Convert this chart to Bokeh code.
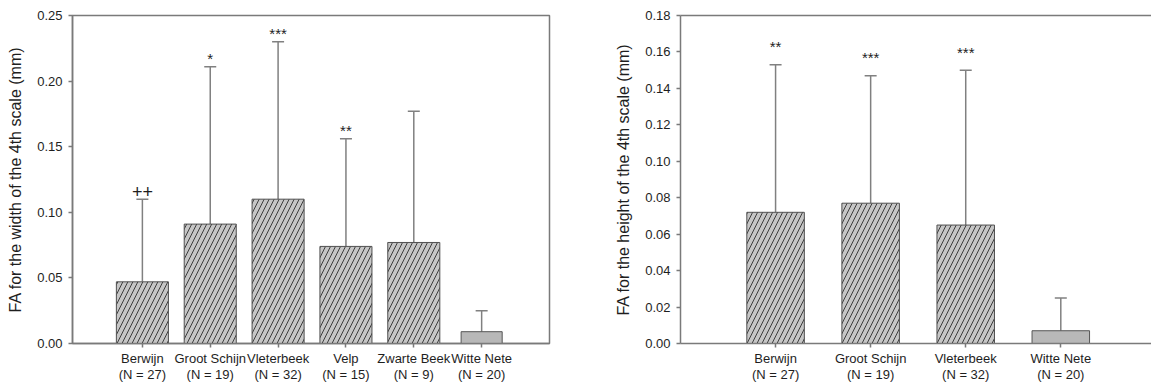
from bokeh.plotting import figure
from bokeh.models import Range1d, FixedTicker, NumeralTickFormatter, LinearAxis, Whisker, TeeHead, ColumnDataSource
from bokeh.layouts import row
from bokeh.embed import file_html
from bokeh.resources import INLINE
from bokeh.core.properties import value

# ---------------- data ----------------
width_sites = ["Berwijn", "Groot Schijn", "Vleterbeek", "Velp", "Zwarte Beek", "Witte Nete"]
width_n = [27, 19, 32, 15, 9, 20]
width_mean = [0.047, 0.091, 0.110, 0.074, 0.077, 0.009]
width_upper = [0.110, 0.211, 0.230, 0.156, 0.177, 0.025]
width_sig = ["++", "*", "***", "**", "", ""]
width_ticks = [0.00, 0.05, 0.10, 0.15, 0.20, 0.25]

height_sites = ["Berwijn", "Groot Schijn", "Vleterbeek", "Witte Nete"]
height_n = [27, 19, 32, 20]
height_mean = [0.072, 0.077, 0.065, 0.007]
height_upper = [0.153, 0.147, 0.150, 0.025]
height_sig = ["**", "***", "***", ""]
height_ticks = [0.00, 0.02, 0.04, 0.06, 0.08, 0.10, 0.12, 0.14, 0.16, 0.18]

control_site = "Witte Nete"

FONT = "Liberation Sans"
AXIS_COLOR = "#7a7a7a"
TEXT_COLOR = "#1e1e1e"


def make_panel(sites, n, mean, upper, sig, yticks, ylabel, fig_w, border_left,
               xr, hatched_w, control_w, sig_offset, boxed, label_standoff):
    p = figure(width=fig_w, height=385, output_backend="svg", toolbar_location=None,
               x_range=Range1d(*xr), y_range=Range1d(yticks[0], yticks[-1]),
               min_border_left=border_left, min_border_right=(31 if boxed else 0),
               min_border_top=15, min_border_bottom=35)
    p.xgrid.visible = False
    p.ygrid.visible = False
    p.background_fill_color = "white"
    p.border_fill_color = "white"

    idx = list(range(len(sites)))
    hatched = [i for i in idx if sites[i] != control_site]
    ctrl = [i for i in idx if sites[i] == control_site]

    src_h = ColumnDataSource(dict(x=[idx[i] for i in hatched], top=[mean[i] for i in hatched]))
    src_c = ColumnDataSource(dict(x=[idx[i] for i in ctrl], top=[mean[i] for i in ctrl]))
    p.vbar(x="x", top="top", bottom=0, width=hatched_w, source=src_h,
           fill_color="#c6c6c6", line_color="#505050", line_width=1,
           hatch_pattern="/", hatch_scale=10, hatch_color="#3c3c3c", hatch_weight=1)
    p.vbar(x="x", top="top", bottom=0, width=control_w, source=src_c,
           fill_color="#b8b8b8", line_color="#555555", line_width=1)

    src_e = ColumnDataSource(dict(x=idx, lower=mean, upper=upper, sig=sig,
                                  fs=["18px" if "+" in s else "15px" for s in sig]))
    w = Whisker(source=src_e, base="x", lower="lower", upper="upper",
                line_color="#808080", line_width=1.5,
                upper_head=TeeHead(size=12, line_color="#808080", line_width=1.5),
                lower_head=None)
    p.add_layout(w)
    p.text(x="x", y="upper", text="sig", source=src_e, text_align="center",
           text_baseline="alphabetic", y_offset=-sig_offset,
           text_font=value(FONT), text_font_size="fs", text_color=TEXT_COLOR)

    # axes
    yax = p.left[0]
    xax = p.below[0]
    yax.ticker = FixedTicker(ticks=yticks)
    yax.formatter = NumeralTickFormatter(format="0.00")
    yax.axis_label = ylabel
    yax.axis_label_text_font = FONT
    yax.axis_label_text_font_style = "normal"
    yax.axis_label_text_font_size = "16px"
    yax.axis_label_text_color = TEXT_COLOR
    yax.axis_label_standoff = label_standoff
    yax.major_label_standoff = 6

    xax.ticker = FixedTicker(ticks=idx)
    xax.major_label_overrides = {i: f"{sites[i]}\n(N = {n[i]})" for i in idx}
    xax.major_label_standoff = 3
    xax.major_label_text_line_height = 1.1

    for ax in (xax, yax):
        ax.axis_line_color = AXIS_COLOR
        ax.axis_line_width = 1.5
        ax.major_tick_line_color = AXIS_COLOR
        ax.major_tick_line_width = 1.5
        ax.major_tick_in = 0
        ax.major_tick_out = 4
        ax.minor_tick_line_color = None
        ax.major_label_text_font = FONT
        ax.major_label_text_font_size = "13px"
        ax.major_label_text_color = TEXT_COLOR

    if boxed:
        p.outline_line_color = AXIS_COLOR
        p.outline_line_width = 1.5
    else:
        p.outline_line_color = None
        top = LinearAxis(ticker=FixedTicker(ticks=[]), axis_line_color=AXIS_COLOR,
                         axis_line_width=1.5, major_tick_line_color=None,
                         minor_tick_line_color=None, major_label_text_font_size="0px")
        p.add_layout(top, "above")
    return p


p1 = make_panel(width_sites, width_n, width_mean, width_upper, width_sig, width_ticks,
                "FA for the width of the 4th scale (mm)", 580, 72, (-1.03, 6.0),
                0.767, 0.605, 8, True, 10)
p2 = make_panel(height_sites, height_n, height_mean, height_upper, height_sig, height_ticks,
                "FA for the height of the 4th scale (mm)", 571, 100, (-1.0, 3.954),
                0.605, 0.605, 18, False, 10)

layout = row(p1, p2)
open("out.html", "w").write(file_html(layout, INLINE))
